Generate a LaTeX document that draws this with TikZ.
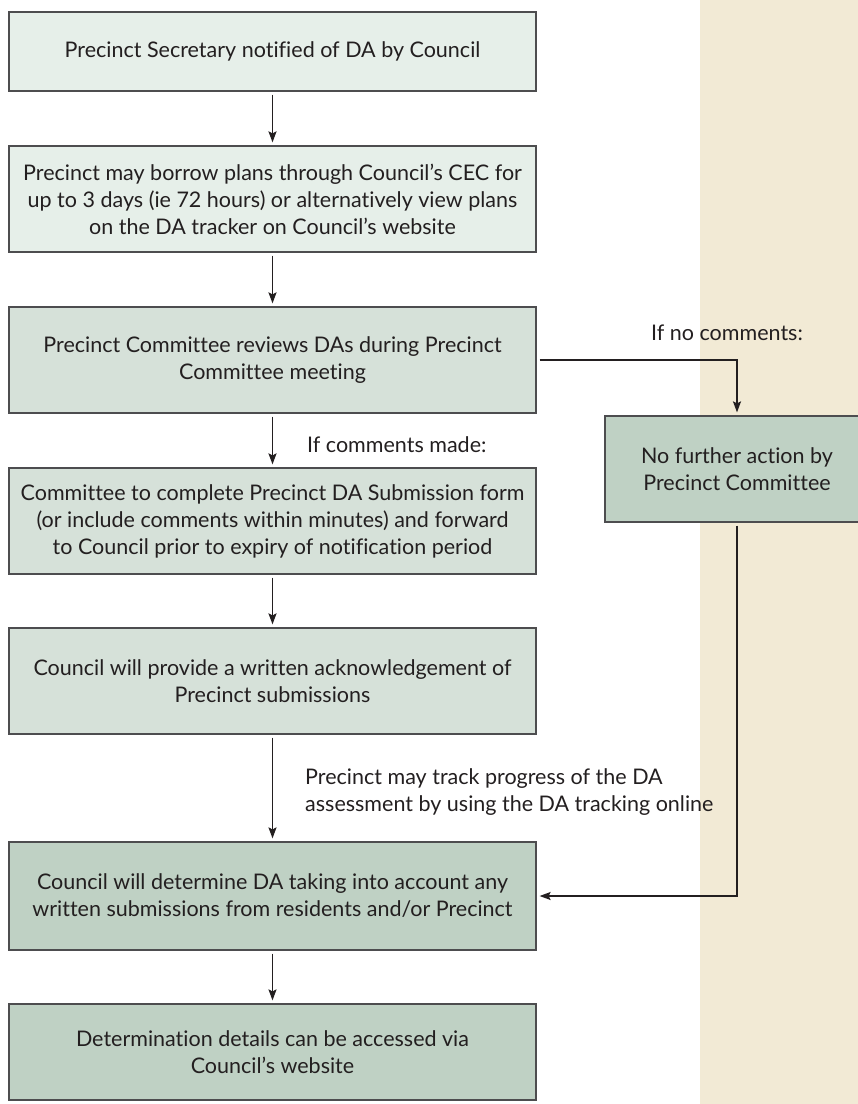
\documentclass[tikz,border=0pt]{standalone}
\usepackage{fontspec}
\setmainfont{Lato}[Ligatures=NoCommon]
\usetikzlibrary{arrows.meta}

\definecolor{pale}{HTML}{E6EFE9}
\definecolor{mid}{HTML}{D6E1D9}
\definecolor{deep}{HTML}{BFD1C4}
\definecolor{sand}{HTML}{F2EAD5}
\definecolor{ink}{HTML}{231F20}
\definecolor{edge}{HTML}{4D4D4F}

\tikzset{
  box/.style={draw=edge, line width=1.2pt, minimum width=527pt, inner sep=0pt,
    align=center, text=ink, font=\fontsize{21.5}{27}\selectfont},
  note/.style={text=ink, inner sep=0pt, font=\fontsize{21.5}{27}\selectfont},
  flow/.style={draw=ink, line width=1.5pt, shorten <=3pt, shorten >=3pt,
    -{Stealth[length=11pt,width=8pt,inset=2pt]}}
}

\begin{document}
\begin{tikzpicture}[x=1pt,y=-1pt]
			%%%%% START %%%%%
			
			\clip (0,0) rectangle (858,1104);
			\fill[sand] (700,0) rectangle (858,1104);
			
			\node[box, fill=pale, minimum height=79pt] (notified) at (272.5,51.5) {Precinct Secretary notified of DA by Council};
			\node[box, fill=pale, minimum height=106pt] (borrow) at (272.5,199) {Precinct may borrow plans through Council’s CEC for\\up to 3 days (ie 72 hours) or alternatively view plans\\on the DA tracker on Council’s website};
			\node[box, fill=mid, minimum height=106pt] (review) at (272.5,360) {Precinct Committee reviews DAs during Precinct\\Committee meeting};
			\node[box, fill=mid, minimum height=106pt] (submit) at (272.5,521) {Committee to complete Precinct DA Submission form\\(or include comments within minutes) and forward\\to Council prior to expiry of notification period};
			\node[box, fill=mid, minimum height=106pt] (acknowledge) at (272.5,681) {Council will provide a written acknowledgement of\\Precinct submissions};
			\node[box, fill=deep, minimum height=108pt] (determine) at (272.5,896) {Council will determine DA taking into account any\\written submissions from residents and/or Precinct};
			\node[box, fill=deep, minimum height=96pt] (details) at (272.5,1052) {Determination details can be accessed via\\Council’s website};
			
			\node[box, fill=deep, minimum width=264pt, minimum height=106pt] (nofurther) at (737,469) {No further action by\\Precinct Committee};
			
			\node[note, anchor=base] (nocomments) at (727,340) {If no comments:};
			\node[note, anchor=base west] (commentsmade) at (307,452) {If comments made:};
			\node[note, anchor=west, align=left] (tracking) at (305,792) {Precinct may track progress of the DA\\assessment by using the DA tracking online};
			
			\draw[flow] (notified.south) -- (borrow.north);
			\draw[flow] (borrow.south) -- (review.north);
			\draw[flow] (review.south) -- (submit.north);
			\draw[flow] (submit.south) -- (acknowledge.north);
			\draw[flow] (acknowledge.south) -- (determine.north);
			\draw[flow] (determine.south) -- (details.north);
			\draw[flow] (review.east) -| (nofurther.north);
			\draw[flow] (nofurther.south) |- (determine.east);
			
			%%%%% END %%%%%
\end{tikzpicture}
\end{document}
